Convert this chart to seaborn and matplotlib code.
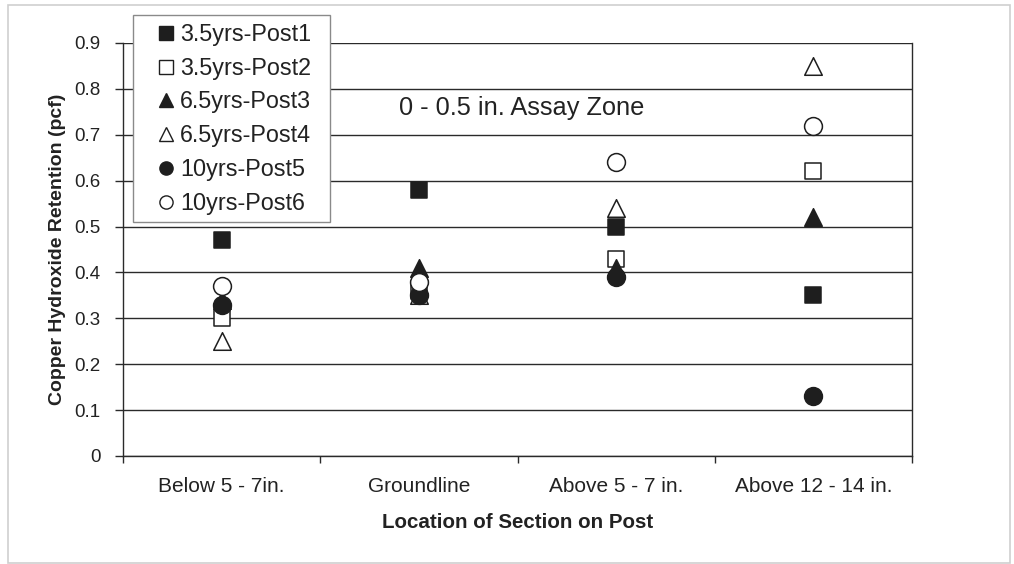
import matplotlib
matplotlib.use("Agg")
import matplotlib.pyplot as plt
from matplotlib.lines import Line2D
from matplotlib.patches import Rectangle
import seaborn as sns
import pandas as pd
import numpy as np

categories = ["Below 5 - 7in.", "Groundline", "Above 5 - 7 in.", "Above 12 - 14 in."]
series_names = ["3.5yrs-Post1", "3.5yrs-Post2", "6.5yrs-Post3", "6.5yrs-Post4", "10yrs-Post5", "10yrs-Post6"]
post1 = [0.47, 0.58, 0.50, 0.35]
post2 = [0.30, 0.36, 0.43, 0.62]
post3 = [0.34, 0.41, 0.41, 0.52]
post4 = [0.25, 0.35, 0.54, 0.85]
post5 = [0.33, 0.35, 0.39, 0.13]
post6 = [0.37, 0.38, 0.64, 0.72]
yticks = [0, 0.1, 0.2, 0.3, 0.4, 0.5, 0.6, 0.7, 0.8, 0.9]
ytick_labels = ["0", "0.1", "0.2", "0.3", "0.4", "0.5", "0.6", "0.7", "0.8", "0.9"]

values = [post1, post2, post3, post4, post5, post6]
markers = ["s", "s", "^", "^", "o", "o"]
filled = [True, False, True, False, True, False]

sns.set_theme(style="white")
plt.rcParams["font.family"] = ["Liberation Sans", "DejaVu Sans"]

W, H = 1014, 564
fig = plt.figure(figsize=(W / 100, H / 100), dpi=100)
fig.patch.set_facecolor("white")
ax = fig.add_axes([123 / W, 1 - 456 / H, (912 - 123) / W, (456 - 43) / H])

dark = "#1e1e1e"
txt = "#222222"
sizes = {"s": 135, "^": 160, "o": 165}
frames = []
for name, vals in zip(series_names, values):
    frames.append(pd.DataFrame({"location": categories, "retention": vals, "series": name}))
df = pd.concat(frames, ignore_index=True)

for name, m, f in zip(series_names, markers, filled):
    sub = df[df["series"] == name]
    sns.scatterplot(data=sub, x="location", y="retention", marker=m, s=sizes[m],
                    color=dark if f else "white", edgecolor=dark, linewidth=1.1,
                    ax=ax, legend=False, zorder=3)

ax.set_xlim(-0.5, 3.5)
ax.set_ylim(0, 0.9)
ax.set_yticks(yticks)
ax.set_yticklabels(ytick_labels)
ax.yaxis.grid(True, color="#2a2a2a", linewidth=1.0)
ax.xaxis.grid(False)
ax.set_axisbelow(True)
for sp in ax.spines.values():
    sp.set_visible(True)
    sp.set_color("#2a2a2a")
    sp.set_linewidth(1.0)
ax.spines["top"].set_visible(False)

ax.set_xticks(range(len(categories)))
ax.set_xticklabels(categories)
ax.set_xticks(np.arange(-0.5, 4.0, 1.0), minor=True)
ax.tick_params(axis="x", which="major", length=0, pad=15, labelsize=15, labelcolor=txt)
ax.tick_params(axis="x", which="minor", length=5, width=1, color="#2a2a2a", direction="out", bottom=True)
ax.tick_params(axis="y", which="major", length=6, width=1, color="#2a2a2a", direction="out",
               left=True, pad=10, labelsize=13.5, labelcolor=txt)

ax.set_xlabel("Location of Section on Post", fontsize=14.8, fontweight="bold", color=txt, labelpad=12)
ax.set_ylabel("Copper Hydroxide Retention (pcf)", fontsize=14, fontweight="bold", color=txt, labelpad=6)

ax.text(1.52, 0.758, "0 - 0.5 in. Assay Zone", ha="center", va="center", fontsize=18.3, color=txt)

# legend box
box = Rectangle((133 / W, 1 - 222 / H), (330 - 133) / W, (222 - 15) / H,
                transform=fig.transFigure, facecolor="white", edgecolor="#8a8a8a",
                linewidth=1.0, zorder=4, clip_on=False)
ax.add_artist(box)

handles = []
for name, m, f in zip(series_names, markers, filled):
    handles.append(Line2D([], [], linestyle="none", marker=m, markersize=9.5,
                          markerfacecolor=dark if f else "white", markeredgecolor=dark,
                          markeredgewidth=1.0, label=name))
leg = ax.legend(handles=handles, loc="upper left", bbox_to_anchor=(154 / W, 1 - 23 / H),
                bbox_transform=fig.transFigure, borderaxespad=0, borderpad=0, frameon=False,
                fontsize=16.8, labelspacing=0.46, handletextpad=0.12, handlelength=1.0)
for t in leg.get_texts():
    t.set_color(txt)
leg.set_zorder(5)

fig.patches.append(Rectangle((8 / W, 1 - 563 / H), (1010 - 8) / W, (563 - 5) / H,
                             transform=fig.transFigure, fill=False, edgecolor="#cfcfcf",
                             linewidth=1.2, zorder=0))

fig.savefig("out.png", dpi=100, facecolor="white")
